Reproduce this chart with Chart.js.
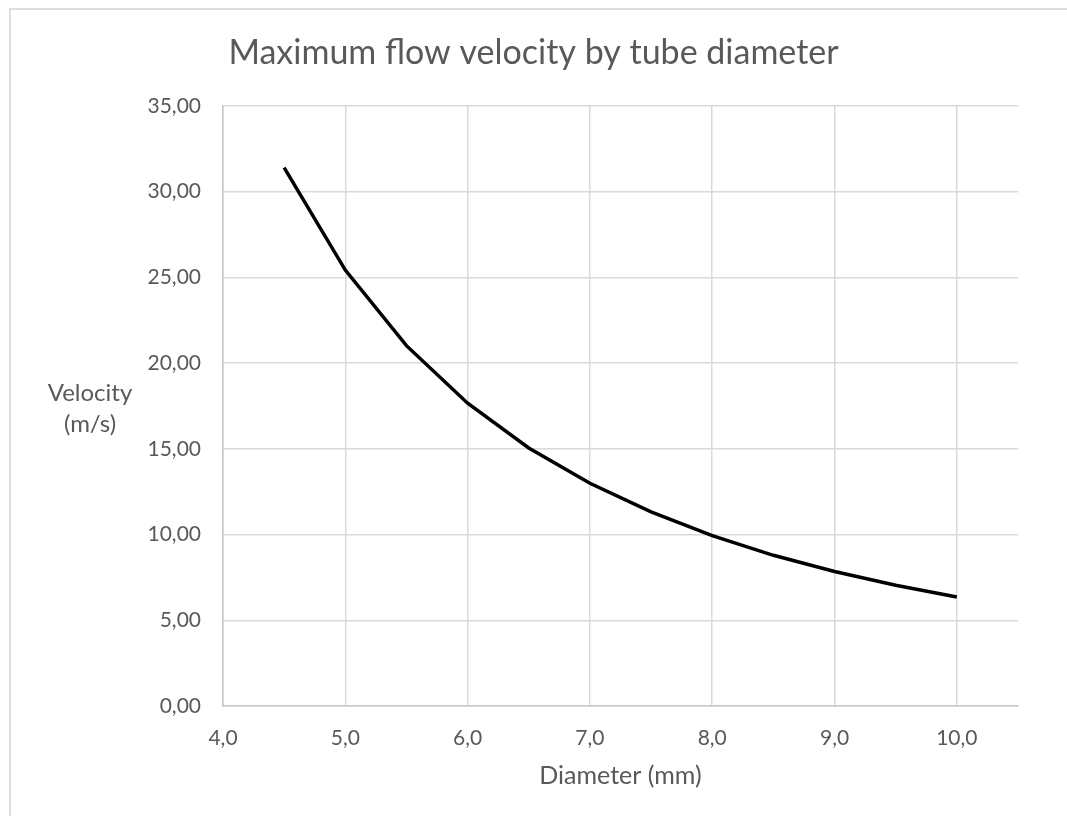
<!DOCTYPE html>
<html>
<head>
<meta charset="utf-8">
<script src="https://cdn.jsdelivr.net/npm/chart.js@4/dist/chart.umd.min.js"></script>
<style>
html,body{margin:0;padding:0;background:#fff;}
#wrap{position:relative;width:1067px;height:816px;overflow:hidden;background:#fff;}
#frame{position:absolute;left:9px;top:8px;width:1200px;height:1000px;border-top:2px solid #dedede;border-left:2px solid #dedede;}
canvas{position:absolute;left:0;top:0;}
</style>
</head>
<body>
<div id="wrap"><div id="frame"></div><canvas id="c" width="1067" height="816"></canvas></div>
<script>
const chartTitle = 'Maximum flow velocity by tube diameter';
const xAxisTitle = 'Diameter (mm)';
const yAxisTitle = ['Velocity', '(m/s)'];
const diameters = [4.5, 5.0, 5.5, 6.0, 6.5, 7.0, 7.5, 8.0, 8.5, 9.0, 9.5, 10.0];
const velocities = [31.40, 25.43, 21.02, 17.66, 15.05, 12.99, 11.32, 9.94, 8.79, 7.85, 7.04, 6.36];
const xTicks = [4, 5, 6, 7, 8, 9, 10];
const yTicks = [0, 5, 10, 15, 20, 25, 30, 35];

const textColor = '#595959';
const gridColor = '#d9d9d9';
const fontFamily = 'Lato, "Open Sans", sans-serif';

const yTitlePlugin = {
  id: 'yTitlePlugin',
  afterDraw(chart) {
    const ctx = chart.ctx;
    const lines = chart.options.scales.y.title.text;
    ctx.save();
    ctx.font = '24px ' + fontFamily;
    ctx.fillStyle = textColor;
    ctx.textAlign = 'center';
    ctx.textBaseline = 'alphabetic';
    const baselines = [401, 432];
    lines.forEach((t, i) => ctx.fillText(t, 90, baselines[i]));
    ctx.restore();
  }
};

new Chart(document.getElementById('c'), {
  type: 'line',
  data: {
    datasets: [{
      label: 'Velocity',
      data: diameters.map((d, i) => ({x: d, y: velocities[i]})),
      borderColor: '#000000',
      borderWidth: 3.5,
      pointRadius: 0,
      tension: 0,
      fill: false,
      xAxisID: 'x',
      yAxisID: 'y'
    }]
  },
  options: {
    responsive: false,
    animation: false,
    layout: {padding: 0},
    plugins: {
      legend: {display: false},
      tooltip: {enabled: false},
      title: {
        display: true,
        text: chartTitle,
        color: textColor,
        font: {family: fontFamily, size: 34, weight: 'normal', lineHeight: 1.2},
        padding: {top: 33, bottom: 32.2}
      }
    },
    scales: {
      x: {
        type: 'linear',
        min: 4,
        max: 10.5,
        afterBuildTicks: (scale) => { scale.ticks = xTicks.map(v => ({value: v})); },
        afterFit: (scale) => { scale.height = 110; },
        ticks: {
          color: textColor,
          font: {family: fontFamily, size: 21},
          padding: 20,
          autoSkip: false,
          maxRotation: 0,
          callback: (v) => Number(v).toFixed(1).replace('.', ',')
        },
        grid: {color: gridColor, lineWidth: 1.5, drawTicks: false},
        border: {color: '#c8c8c8', width: 1.5},
        title: {
          display: true,
          text: xAxisTitle,
          color: textColor,
          font: {family: fontFamily, size: 25, lineHeight: 1.2},
          padding: {top: 0, bottom: 25}
        }
      },
      y: {
        min: 0,
        max: 35,
        afterBuildTicks: (scale) => { scale.ticks = yTicks.map(v => ({value: v})); },
        afterFit: (scale) => { scale.width = 223; },
        ticks: {
          color: textColor,
          font: {family: fontFamily, size: 21},
          padding: 22,
          callback: (v) => Number(v).toFixed(2).replace('.', ',')
        },
        grid: {color: gridColor, lineWidth: 1.5, drawTicks: false},
        border: {color: '#c8c8c8', width: 1.5},
        title: {display: false, text: yAxisTitle}
      },
      yRightSpace: {
        type: 'linear',
        position: 'right',
        display: true,
        afterFit: (scale) => { scale.width = 49; },
        ticks: {display: false},
        grid: {display: false, drawTicks: false},
        border: {display: false}
      }
    }
  },
  plugins: [yTitlePlugin]
});
</script>
</body>
</html>
